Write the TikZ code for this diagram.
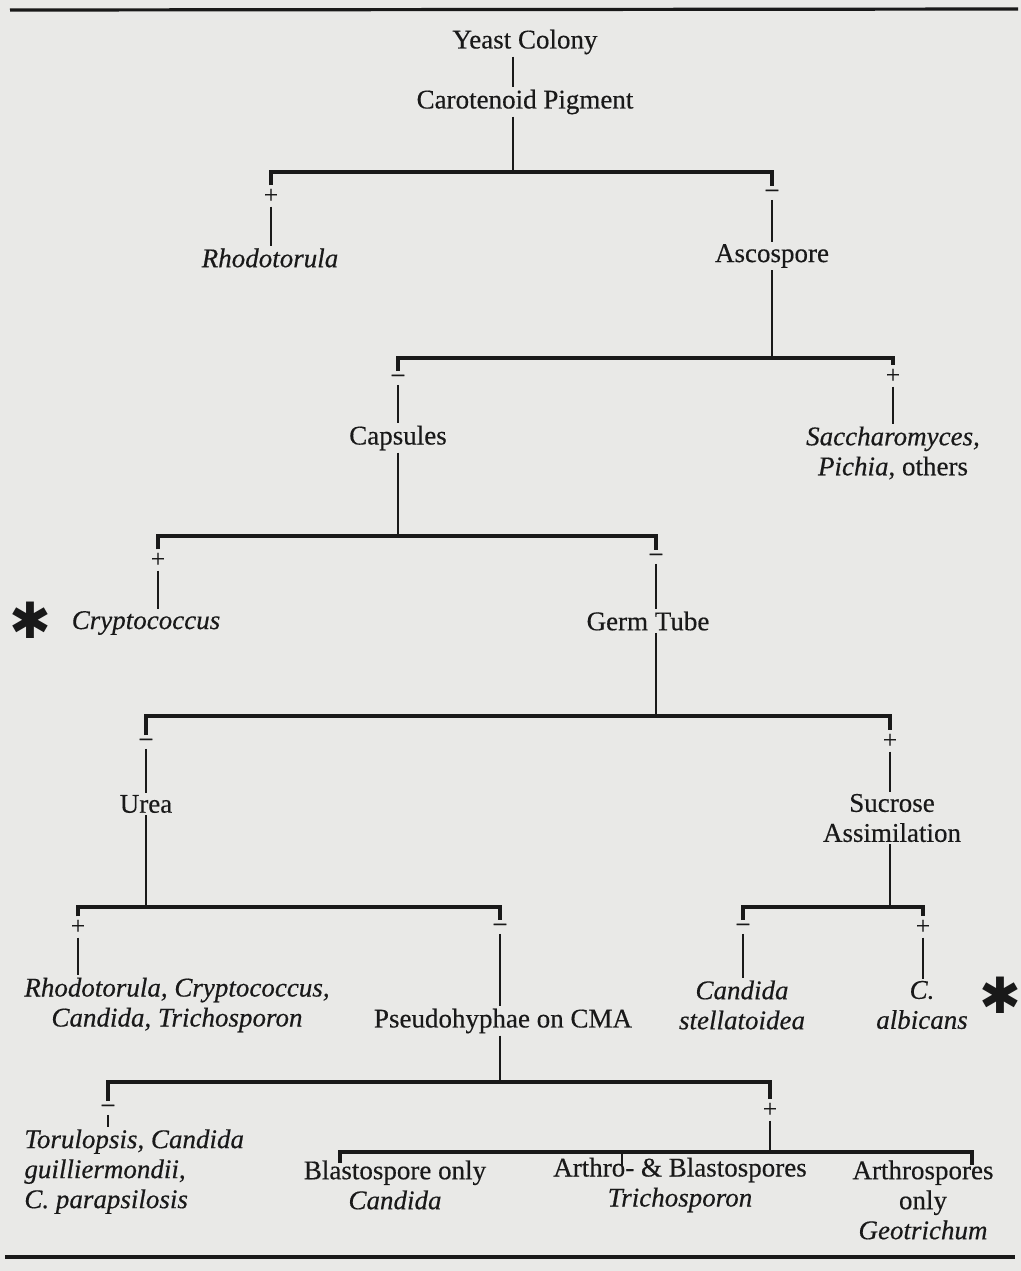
\documentclass[tikz,border=0pt]{standalone}
\usepackage{fontspec}
\setmainfont{Liberation Serif}[
  BoldFont=Liberation Serif, BoldFeatures={FakeBold=0.4},
  BoldItalicFont=Liberation Serif Italic, BoldItalicFeatures={FakeBold=0.4}]
\newfontfamily\starfont{DejaVu Sans}
\usetikzlibrary{positioning}

\definecolor{paper}{RGB}{233,233,231}
\definecolor{ink}{RGB}{25,25,25}

\begin{document}
\begin{tikzpicture}[x=0.5pt, y=-0.5pt,
  every node/.style={font=\fontsize{13.5}{15}\selectfont\bfseries, inner sep=1pt, text=ink},
  test/.style={align=center},
  taxon/.style={align=center, font=\fontsize{13.5}{15}\selectfont\bfseries\itshape},
  sign/.style={inner sep=1.6pt, font=\fontsize{12.5}{13}\selectfont\bfseries},
  stem/.style={draw=ink, line width=1.2pt},
  bar/.style={draw=ink, line width=1.7pt},
  rule/.style={draw=ink, line width=1.6pt},
  mark star/.style={font=\fontsize{25}{25}\selectfont\starfont}]
  % paper and frame
  \useasboundingbox (0,0) rectangle (1021,1271);
  \fill [paper] (0,0) rectangle (1021,1271);
  \draw [rule] (10,10) -- (1018,9);
  \draw [rule] (5,1257) -- (1015,1257);
  % junction points of the bars
  \coordinate (j1) at (513,172);
  \coordinate (j2) at (772,358);
  \coordinate (j3) at (398,536);
  \coordinate (j4) at (656,716);
  \coordinate (j5) at (146,907);
  \coordinate (j6) at (890,907);
  \coordinate (j7) at (500,1082);
  \coordinate (j8) at (770,1152);
  % tests and results
  \node [test] (yeast) at (525,42) {Yeast Colony};
  \node [test] (carot) at (525,102) {Carotenoid Pigment};
  \node [sign] (sRhodo) at (271,196) {+};
  \node [sign] (sAsco) at (772,193) {--};
  \node [taxon] (rhodo) at (270,258) {Rhodotorula};
  \node [test] (asco) at (772,256) {Ascospore};
  \node [sign] (sCaps) at (398,378) {--};
  \node [sign] (sSacch) at (893,376) {+};
  \node [test] (caps) at (398,438) {Capsules};
  \node [test] (sacch) at (893,453) {\textit{Saccharomyces,}\\\textit{Pichia}, others};
  \node [sign] (sCrypt) at (158,560) {+};
  \node [sign] (sGerm) at (656,557) {--};
  \node [taxon] (crypt) at (146,623) {Cryptococcus};
  \node [test] (germ) at (648,621) {Germ Tube};
  \node [sign] (sUrea) at (146,742) {--};
  \node [sign] (sSucr) at (890,741) {+};
  \node [test] (urea) at (146,804) {Urea};
  \node [test] (sucr) at (892,818) {Sucrose\\Assimilation};
  \node [sign] (sRcct) at (78,927) {+};
  \node [sign] (sPseudo) at (500,927) {--};
  \node [sign] (sStell) at (743,927) {--};
  \node [sign] (sAlb) at (923,927) {+};
  \node [taxon] (rcct) at (177,1005) {Rhodotorula, Cryptococcus,\\Candida, Trichosporon};
  \node [test] (pseudo) at (503,1021) {Pseudohyphae on CMA};
  \node [taxon] (stell) at (742,1005) {Candida\\stellatoidea};
  \node [taxon] (alb) at (922,1005) {C.\\albicans};
  \node [sign] (sTorul) at (108,1108) {--};
  \node [sign] (sSpore) at (770,1110) {+};
  \node [taxon, align=left, anchor=north west] (torul) at (22,1127)
    {Torulopsis, Candida\\guilliermondii,\\C. parapsilosis};
  \node [test] (blast) at (395,1185) {Blastospore only\\\textit{Candida}};
  \node [test] (arthbl) at (680,1185) {Arthro- \& Blastospores\\\textit{Trichosporon}};
  \node [test] (arthro) at (923,1200) {Arthrospores\\only\\\textit{Geotrichum}};
  % marked species
  \node [mark star] (star1) at (30,620) {✱};
  \node [mark star] (star2) at (1000,995) {✱};
  % stems from tests down to the bars
  \draw [stem] (yeast.south -| j1) -- (carot.north -| j1);
  \draw [stem] (carot.south -| j1) -- (j1);
  \draw [stem] (asco.south) -- (j2);
  \draw [stem] (caps.south) -- (j3);
  \draw [stem] (germ.south -| j4) -- (j4);
  \draw [stem] (urea.south) -- (j5);
  \draw [stem] (sucr.south -| j6) -- (j6);
  \draw [stem] (pseudo.south -| j7) -- (j7);
  % bars
  \draw [bar] (sRhodo.north) -- (sRhodo |- j1) -- (sAsco |- j1) -- (sAsco.north);
  \draw [bar] (sCaps.north) -- (sCaps |- j2) -- (sSacch |- j2) -- (sSacch.north);
  \draw [bar] (sCrypt.north) -- (sCrypt |- j3) -- (sGerm |- j3) -- (sGerm.north);
  \draw [bar] (sUrea.north) -- (sUrea |- j4) -- (sSucr |- j4) -- (sSucr.north);
  \draw [bar] (sRcct.north) -- (sRcct |- j5) -- (sPseudo |- j5) -- (sPseudo.north);
  \draw [bar] (sStell.north) -- (sStell |- j6) -- (sAlb |- j6) -- (sAlb.north);
  \draw [bar] (sTorul.north) -- (sTorul |- j7) -- (sSpore |- j7) -- (sSpore.north);
  % stems from signs to results
  \draw [stem] (sRhodo.south) -- (rhodo.north -| sRhodo);
  \draw [stem] (sAsco.south) -- (asco.north);
  \draw [stem] (sCaps.south) -- (caps.north -| sCaps);
  \draw [stem] (sSacch.south) -- (sacch.north);
  \draw [stem] (sCrypt.south) -- (crypt.north -| sCrypt);
  \draw [stem] (sGerm.south) -- (germ.north -| sGerm);
  \draw [stem] (sUrea.south) -- (urea.north);
  \draw [stem] (sSucr.south) -- (sucr.north -| sSucr);
  \draw [stem] (sRcct.south) -- (rcct.north -| sRcct);
  \draw [stem] (sPseudo.south) -- (pseudo.north -| sPseudo);
  \draw [stem] (sStell.south) -- (stell.north -| sStell);
  \draw [stem] (sAlb.south) -- (alb.north -| sAlb);
  \draw [stem] (sTorul.south) -- (torul.north -| sTorul);
  \draw [stem] (sSpore.south) -- (j8);
  % last bar with its three ticks
  \coordinate (t1) at (340,1163);
  \coordinate (t2) at (622,1165);
  \coordinate (t3) at (972,1165);
  \draw [bar] (t1) -- (t1 |- j8) -- (t3 |- j8) -- (t3);
  \draw [stem] (t2 |- j8) -- (t2);
\end{tikzpicture}
\end{document}
